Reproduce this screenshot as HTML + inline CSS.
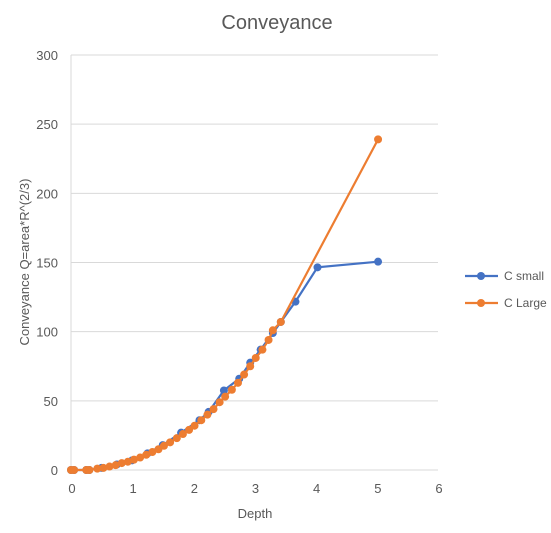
<!DOCTYPE html>
<html><head><meta charset="utf-8"><style>
html,body{margin:0;padding:0;background:#fff}
svg{display:block;font-family:"Liberation Sans",sans-serif}
</style></head><body>
<svg id="chart" width="551" height="533">
<text x="277" y="29" font-size="20" fill="#595959" text-anchor="middle">Conveyance</text>
<g id="grid"></g><g id="axes"></g><g id="series"></g>
<text x="255" y="518" font-size="13" fill="#595959" text-anchor="middle">Depth</text>
<text transform="translate(29,262) rotate(-90)" font-size="13" fill="#595959" text-anchor="middle">Conveyance  Q=area*R^(2/3)</text>
<g>
<g><line x1="465" y1="276" x2="498" y2="276" stroke="#4472C4" stroke-width="2.2"/><circle cx="481" cy="276" r="4" fill="#4472C4"/><text x="504" y="280" font-size="12" fill="#595959">C small</text></g>
<g><line x1="465" y1="303" x2="498" y2="303" stroke="#ED7D31" stroke-width="2.2"/><circle cx="481" cy="303" r="4" fill="#ED7D31"/><text x="504" y="307" font-size="12" fill="#595959">C Large</text></g>
</g>
</svg>
<script>
const xTicks=[0,1,2,3,4,5,6];
const yTicks=[0,50,100,150,200,250,300];
const smallDepth=[0,0.05,0.25,0.3,0.5,0.75,1.0,1.25,1.5,1.8,2.1,2.25,2.5,2.75,2.93,3.1,3.3,3.43,3.67,4.03,5.02];
const smallValue=[0,0,0,0,1.5,4,7,12,18,27,36,42,57.5,66,77.6,87,99,107,121.7,146.5,150.6];
const largeDepth=[0,0.05,0.25,0.3,0.43,0.53,0.63,0.73,0.83,0.93,1.03,1.13,1.23,1.33,1.43,1.52,1.62,1.73,1.83,1.93,2.02,2.13,2.23,2.33,2.43,2.52,2.63,2.73,2.83,2.93,3.02,3.13,3.23,3.3,3.43,5.02];
const largeValue=[0,0,0,0,1,1.5,2.5,3.5,5,6,7.5,9,11,13,15,17.5,20,23,26,29,32,36,40,44,49,53,58,63,69,75,81,87,94,101,107,239];
const X0=71,X1=438,Y0=470,Y1=55;
const sx=v=>X0+(X1-X0)*v/6, sy=v=>Y0-(Y0-Y1)*v/300;
const NS="http://www.w3.org/2000/svg";
function mk(t,a,p){const e=document.createElementNS(NS,t);for(const k in a)e.setAttribute(k,a[k]);p.appendChild(e);return e;}
const grid=document.getElementById('grid'),axes=document.getElementById('axes'),ser=document.getElementById('series');
yTicks.forEach(v=>{
 const l=mk('line',{x1:X0,x2:X1,y1:sy(v),y2:sy(v),stroke:'#d9d9d9','stroke-width':1},grid);
 
 
 const t=mk('text',{x:58,y:sy(v)+5,'font-size':13,fill:'#595959','text-anchor':'end'},axes);t.textContent=v;
 
 
});
const ya=mk('line',{x1:X0,x2:X0,y1:Y1,y2:Y0,stroke:'#d9d9d9','stroke-width':1},axes);


xTicks.forEach(v=>{
 const t=mk('text',{x:sx(v)+1,y:493,'font-size':13,fill:'#595959','text-anchor':'middle'},axes);t.textContent=v;
 
 
});
function draw(d,v,c,name){
 const g=mk('g',{},ser);
 
 
 const p=mk('polyline',{points:d.map((x,i)=>sx(x)+','+sy(v[i])).join(' '),fill:'none',stroke:c,'stroke-width':2.2},g);
 
 
 d.forEach((x,i)=>{const m=mk('circle',{cx:sx(x),cy:sy(v[i]),r:4,fill:c},g);
  
  });
}
draw(smallDepth,smallValue,'#4472C4','series-c-small');
draw(largeDepth,largeValue,'#ED7D31','series-c-large');
</script>
</body></html>
